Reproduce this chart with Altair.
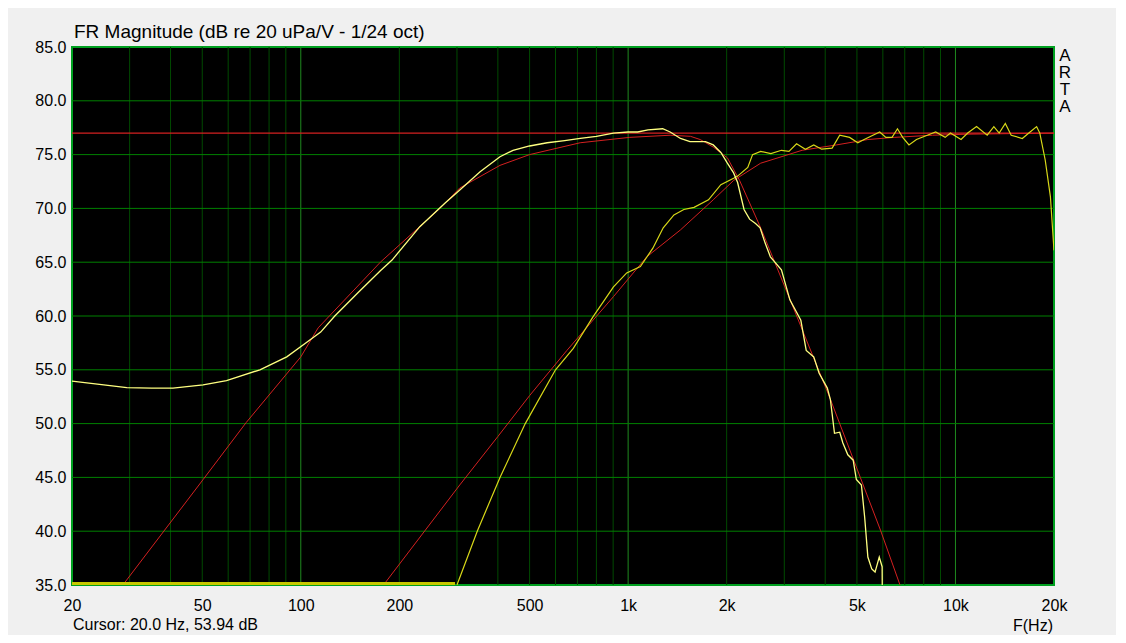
import altair as alt
import pandas as pd

# ---------------- data ----------------
woofer_meas_f = [20, 25, 29.4, 35, 40.7, 50.3, 59.3, 75, 90.6, 104.8, 115, 127, 150, 175, 190,
                 231, 276, 306, 353, 406, 445, 500, 566, 640, 714, 800, 902, 1000, 1070, 1150,
                 1275, 1344, 1445, 1545, 1640, 1723, 1820, 1920, 2010, 2100, 2160, 2260, 2350,
                 2450, 2530, 2620, 2720, 2940, 3120, 3370, 3500, 3690, 3830, 4060, 4150, 4270,
                 4430, 4530, 4690, 4870, 4980, 5160, 5280, 5400, 5550, 5680, 5850, 5970, 5990]
woofer_meas_db = [53.94, 53.6, 53.35, 53.3, 53.3, 53.6, 54.0, 55.0, 56.2, 57.6, 58.5, 60.0, 62.2,
                  64.2, 65.2, 68.3, 70.5, 71.7, 73.4, 74.8, 75.4, 75.8, 76.1, 76.3, 76.5, 76.7,
                  77.0, 77.1, 77.1, 77.3, 77.4, 77.1, 76.5, 76.2, 76.2, 76.2, 75.9, 75.2, 74.2,
                  73.3, 72.4, 69.9, 69.0, 68.6, 68.2, 66.8, 65.5, 64.3, 61.5, 59.6, 56.8, 56.2,
                  54.7, 53.3, 52.2, 49.1, 49.2, 48.2, 47.1, 46.6, 44.8, 44.3, 41.3, 37.6, 36.5,
                  36.2, 37.6, 36.7, 30.0]

woofer_target_f = [28.6, 50.3, 68.1, 100, 113, 175, 266, 306, 406, 500, 714, 1010, 1344, 1550,
                   1660, 1820, 2010, 2190, 2540, 3126, 4120, 5120, 5900, 6770]
woofer_target_db = [35.0, 44.8, 50.1, 56.2, 58.9, 65.0, 70.0, 71.9, 74.0, 75.0, 76.1, 76.6, 76.8,
                    76.7, 76.4, 75.7, 74.7, 72.6, 68.2, 61.5, 52.5, 45.0, 40.1, 35.0]

tweeter_meas_f = [300, 346, 406, 485, 600, 680, 780, 902, 990, 1090, 1190, 1280, 1380, 1480, 1590,
                  1760, 1920, 2100, 2160, 2320, 2400, 2540, 2730, 2940, 3100, 3270, 3480, 3690,
                  3900, 4200, 4430, 4750, 5030, 5260, 5870, 6130, 6400, 6650, 6900, 7210, 7600,
                  8200, 8700, 9300, 9650, 10400, 10900, 11600, 12500, 13100, 13600, 14200, 14800,
                  16000, 16900, 17700, 18100, 18800, 19500, 20000]
tweeter_meas_db = [35.0, 40.0, 45.0, 50.0, 55.0, 57.0, 59.9, 62.7, 64.0, 64.6, 66.3, 68.2, 69.4,
                   69.9, 70.1, 70.8, 72.2, 72.8, 73.0, 73.8, 75.0, 75.3, 75.1, 75.4, 75.3, 76.0,
                   75.5, 75.9, 75.5, 75.6, 76.8, 76.6, 76.1, 76.4, 77.1, 76.6, 76.6, 77.4, 76.6,
                   75.9, 76.4, 76.8, 77.1, 76.6, 77.0, 76.4, 77.0, 77.6, 76.8, 77.6, 77.0, 77.9,
                   76.8, 76.5, 77.1, 77.6, 77.0, 74.5, 71.1, 66.1]

tweeter_floor_f = [20, 296]
tweeter_floor_db = [35.15, 35.15]

tweeter_target_f = [181, 306, 400, 500, 650, 902, 1140, 1445, 1820, 2100, 2540, 3400, 4330, 5400,
                    6500, 8500, 11000, 20000]
tweeter_target_db = [35.2, 44.3, 48.8, 52.6, 56.8, 61.8, 65.5, 68.0, 70.8, 72.6, 74.2, 75.4, 75.9,
                     76.4, 76.6, 76.8, 76.9, 77.0]

flat_target_f = [20, 20000]
flat_target_db = [77.0, 77.0]

x_tick_values = [20, 50, 100, 200, 500, 1000, 2000, 5000, 10000, 20000]
y_tick_values = [35, 40, 45, 50, 55, 60, 65, 70, 75, 80, 85]
grid_minor_f = [30, 40, 50, 60, 70, 80, 90, 200, 300, 400, 500, 600, 700, 800, 900,
                2000, 3000, 4000, 5000, 6000, 7000, 8000, 9000]
grid_major_f = [100, 1000, 10000]
grid_h_db = [40, 45, 50, 55, 60, 65, 70, 75, 80]

title_text = "FR Magnitude (dB re 20 uPa/V - 1/24 oct)"
cursor_text = "Cursor: 20.0 Hz, 53.94 dB"
xunit_text = "F(Hz)"
brand_letters = ["A", "R", "T", "A"]

# ---------------- chart ----------------
FONT = "Liberation Sans"
W, H = 982, 538

xscale = alt.Scale(type="log", domain=[20, 20000], nice=False)
yscale = alt.Scale(domain=[35, 85], nice=False, zero=False)

xaxis = alt.Axis(values=x_tick_values, labelExpr="datum.value >= 1000 ? (datum.value/1000) + 'k' : datum.value",
                 grid=False, ticks=False, domain=False, title=None, labelFlush=False,
                 labelOverlap=False, labelPadding=12, labelFontSize=16, labelFont=FONT,
                 labelColor="#000000")
yaxis = alt.Axis(values=y_tick_values, format=".1f", grid=False, ticks=False, domain=False,
                 title=None, labelFlush=False, labelOverlap=False, labelPadding=6,
                 labelFontSize=16, labelFont=FONT, labelColor="#000000")


def series(f, db):
    return pd.DataFrame({"f": f, "db": db})


base_x = alt.X("f:Q", scale=xscale, axis=xaxis)
base_y = alt.Y("db:Q", scale=yscale, axis=yaxis)

vminor = alt.Chart(pd.DataFrame({"f": grid_minor_f})).mark_rule(color="#004a00", strokeWidth=1).encode(
    x=alt.X("f:Q", scale=xscale, axis=xaxis))
vmajor = alt.Chart(pd.DataFrame({"f": grid_major_f})).mark_rule(color="#1f8a1f", strokeWidth=1).encode(
    x=alt.X("f:Q", scale=xscale, axis=xaxis))
hgrid = alt.Chart(pd.DataFrame({"db": grid_h_db})).mark_rule(color="#008000", strokeWidth=1).encode(
    y=alt.Y("db:Q", scale=yscale, axis=yaxis))


def line(f, db, color, width=1.0):
    return alt.Chart(series(f, db)).mark_line(color=color, strokeWidth=width, clip=True).encode(
        x=base_x, y=base_y, order="f:Q")


RED = "#d42020"
PALE = "#ffff80"
YEL = "#d8d818"

layers = [
    vminor, vmajor, hgrid,
    line(flat_target_f, flat_target_db, RED, 1.2),
    line(woofer_target_f, woofer_target_db, RED, 1.0),
    line(tweeter_target_f, tweeter_target_db, RED, 1.0),
    line(tweeter_floor_f, tweeter_floor_db, "#c8c800", 3.0),
    line(tweeter_meas_f, tweeter_meas_db, YEL, 1.2),
    line(woofer_meas_f, woofer_meas_db, PALE, 1.3),
]

txt = pd.DataFrame({"t": [0]})
title = alt.Chart(txt).mark_text(text=title_text, font=FONT, fontSize=19, align="left",
                                 baseline="alphabetic", color="#000000").encode(
    x=alt.value(2), y=alt.value(-9))
cursor = alt.Chart(txt).mark_text(text=cursor_text, font=FONT, fontSize=16, align="left",
                                  baseline="middle", color="#000000").encode(
    x=alt.value(1), y=alt.value(578))
xunit = alt.Chart(txt).mark_text(text=xunit_text, font=FONT, fontSize=16, align="left",
                                 baseline="middle", color="#000000").encode(
    x=alt.value(941), y=alt.value(579))
brand = alt.Chart(txt).mark_text(text=brand_letters, font=FONT, fontSize=17, align="center",
                                 baseline="top", lineHeight=17, color="#000000").encode(
    x=alt.value(993), y=alt.value(1))

chart = alt.layer(*layers, title, cursor, xunit, brand).properties(
    width=W, height=H,
    padding={"left": 64, "top": 39, "right": 62, "bottom": 50},
    autosize=alt.AutoSizeParams(type="none"),
    background="#f0f0f0",
).configure_view(fill="#000000", stroke="#00a020", strokeWidth=2)

chart.save("out.html", embed_options={"renderer": "svg", "actions": False})
